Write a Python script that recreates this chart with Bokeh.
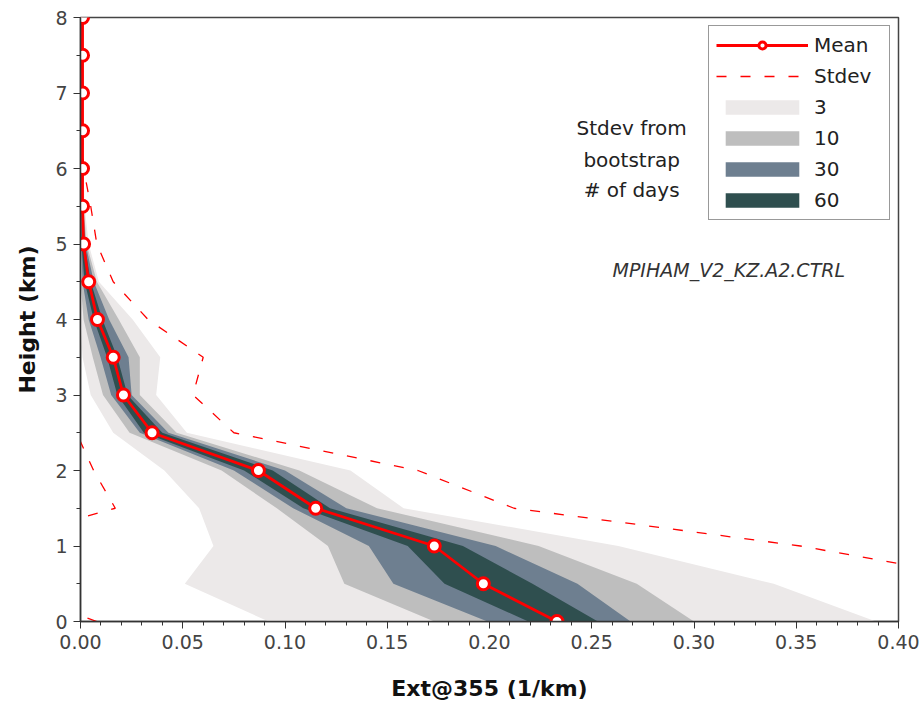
from bokeh.plotting import figure
from bokeh.models import Legend, LegendItem, Label, SingleIntervalTicker, PrintfTickFormatter
from bokeh.embed import file_html
from bokeh.resources import INLINE

# ---------------- data ----------------
heights = [0.0, 0.5, 1.0, 1.5, 2.0, 2.5, 3.0, 3.5, 4.0, 4.5, 5.0, 5.5, 6.0, 6.5, 7.0, 7.5, 8.0]

mean_ext = [0.233, 0.197, 0.173, 0.115, 0.087, 0.035, 0.021, 0.016, 0.0083, 0.004,
            0.0015, 0.001, 0.001, 0.001, 0.001, 0.001, 0.001]

stdev_upper = [0.50, 0.455, 0.352, 0.212, 0.165, 0.075, 0.055, 0.060, 0.033, 0.016,
               0.008, 0.005, 0.0015, 0.0008, 0.0006, 0.0005, 0.0005]
stdev_lower = [0.008, -0.042, -0.05, 0.017, 0.0064, -0.002, -0.015, -0.028, -0.015, -0.005,
               -0.004, -0.002, 0.0, 0.0, 0.0, 0.0, 0.0]

band_labels = ["3", "10", "30", "60"]
band_colors = ["#ece9e9", "#bebebe", "#6e7f90", "#2f4f4f"]

band3_lo = [0.092, 0.051, 0.065, 0.058, 0.041, 0.016, 0.005, 0.001, 0.0, 0.0, 0.0, 0.0, 0.0, 0.0, 0.0, 0.0, 0.0]
band3_hi = [0.389, 0.339, 0.263, 0.158, 0.132, 0.052, 0.037, 0.039, 0.0255, 0.009, 0.004, 0.002, 0.0015, 0.0008, 0.0008, 0.0008, 0.0008]

band10_lo = [0.173, 0.129, 0.121, 0.096, 0.069, 0.024, 0.011, 0.006, 0.0015, 0.0, 0.0, 0.0, 0.0, 0.0, 0.0, 0.0, 0.0]
band10_hi = [0.300, 0.272, 0.224, 0.145, 0.107, 0.047, 0.029, 0.029, 0.0187, 0.008, 0.003, 0.0015, 0.001, 0.0008, 0.0008, 0.0008, 0.0008]

band30_lo = [0.199, 0.153, 0.141, 0.104, 0.075, 0.029, 0.015, 0.0098, 0.004, 0.001, 0.0003, 0.0003, 0.0003, 0.0003, 0.0003, 0.0003, 0.0003]
band30_hi = [0.269, 0.243, 0.203, 0.130, 0.100, 0.043, 0.025, 0.0235, 0.014, 0.0065, 0.0025, 0.0013, 0.001, 0.001, 0.001, 0.001, 0.001]

band60_lo = [0.219, 0.178, 0.160, 0.109, 0.080, 0.031, 0.018, 0.013, 0.0065, 0.002, 0.0005, 0.0005, 0.0005, 0.0005, 0.0005, 0.0005, 0.0005]
band60_hi = [0.253, 0.221, 0.187, 0.122, 0.094, 0.040, 0.023, 0.018, 0.0107, 0.005, 0.002, 0.0012, 0.001, 0.001, 0.001, 0.001, 0.001]

bands_lo = [band3_lo, band10_lo, band30_lo, band60_lo]
bands_hi = [band3_hi, band10_hi, band30_hi, band60_hi]

x_label = "Ext@355 (1/km)"
y_label = "Height (km)"
model_name = "MPIHAM_V2_KZ.A2.CTRL"
note_lines = ["Stdev from", "bootstrap", "# of days"]

# ---------------- figure ----------------
FONT = "DejaVu Sans"
p = figure(width=923, height=703, x_range=(0, 0.40), y_range=(0, 8),
           output_backend="svg", toolbar_location=None,
           min_border_left=80, min_border_right=25, min_border_top=17, min_border_bottom=82)
p.grid.visible = False
p.background_fill_color = "white"
p.border_fill_color = "white"
p.outline_line_color = "#444444"
p.outline_line_width = 1.5

band_renderers = []
for lo, hi, col in zip(bands_lo, bands_hi, band_colors):
    r = p.harea(x1=lo, x2=hi, y=heights, fill_color=col, fill_alpha=1.0)
    band_renderers.append(r)

r_up = p.line(stdev_upper, heights, line_color="red", line_width=1.3, line_dash="10 14")
r_lo = p.line(stdev_lower, heights, line_color="red", line_width=1.3, line_dash="10 14")

r_mean_line = p.line(mean_ext, heights, line_color="red", line_width=2.8)
r_mean_pts = p.scatter(mean_ext, heights, marker="circle", size=12, line_color="red",
                       line_width=3, fill_color="white")

# axes
p.xaxis.ticker = SingleIntervalTicker(interval=0.05, num_minor_ticks=5)
p.yaxis.ticker = SingleIntervalTicker(interval=1, num_minor_ticks=2)
p.xaxis.formatter = PrintfTickFormatter(format="%.2f")
for ax in (p.xaxis[0], p.yaxis[0]):
    ax.axis_line_color = "#333333"
    ax.axis_line_width = 1.5
    ax.major_tick_line_color = "#333333"
    ax.minor_tick_line_color = "#333333"
    ax.major_tick_out = 7
    ax.major_tick_in = 0
    ax.minor_tick_out = 4
    ax.minor_tick_in = 0
    ax.major_label_text_font = FONT
    ax.major_label_text_font_size = "19px"
    ax.major_label_text_color = "#444444"
    ax.axis_label_text_font = FONT
    ax.axis_label_text_font_size = "22px"
    ax.axis_label_text_font_style = "bold"
    ax.axis_label_text_color = "#111111"
p.xaxis.axis_label = x_label
p.yaxis.axis_label = y_label
p.xaxis.axis_label_standoff = 24
p.yaxis.axis_label_standoff = 12
p.xaxis.major_label_standoff = 6
p.yaxis.major_label_standoff = 6

# legend
items = [
    LegendItem(label="Mean", renderers=[r_mean_line, r_mean_pts]),
    LegendItem(label="Stdev", renderers=[r_up]),
]
for lab, r in zip(band_labels, band_renderers):
    items.append(LegendItem(label=lab, renderers=[r]))
legend = Legend(items=items, location="top_right",
                border_line_color="#333333", border_line_width=1.5,
                background_fill_color="white", background_fill_alpha=1.0,
                label_text_font=FONT, label_text_font_size="20px", label_text_color="#222222",
                glyph_width=92, glyph_height=18, label_height=16, label_width=68,
                spacing=7, padding=7, margin=8, label_standoff=6)
p.add_layout(legend)

# annotations
note_y = [6.53, 6.11, 5.71]
for txt, yy in zip(note_lines, note_y):
    p.add_layout(Label(x=0.2695, y=yy, text=txt, text_align="center", text_baseline="middle",
                       text_font=FONT, text_font_size="20px", text_color="#222222"))
p.add_layout(Label(x=0.317, y=4.65, text=model_name, text_align="center", text_baseline="middle",
                   text_font=FONT, text_font_size="19px", text_font_style="italic",
                   text_color="#333333"))

open("out.html", "w").write(file_html(p, INLINE))
